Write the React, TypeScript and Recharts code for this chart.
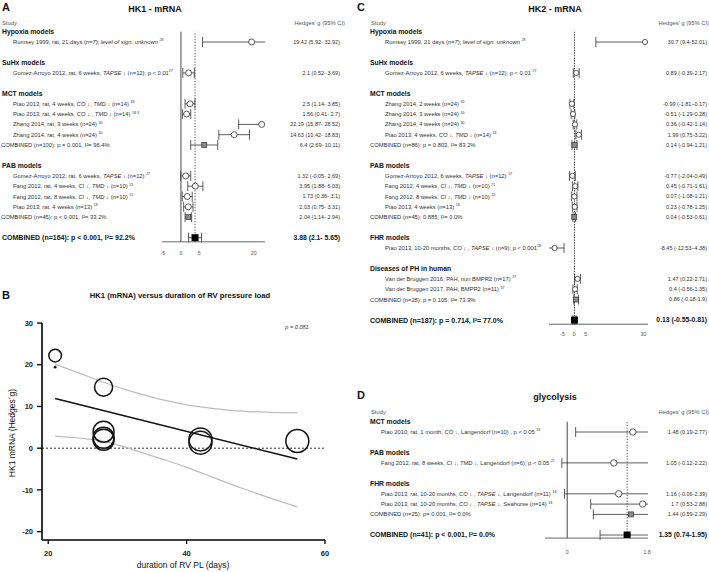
import React from 'react';
import {
  ScatterChart, Scatter, XAxis, YAxis, ErrorBar, ReferenceLine,
  ComposedChart, Line,
} from 'recharts';

const FONT = '"Liberation Sans", Arial, Helvetica, sans-serif';

interface Row { i: number; kind: 'h' | 's' | 'c' | 't'; label: string; g?: number; lo?: number; hi?: number; ci?: string; }

// ---------- Panel A: HK1 - mRNA ----------
const hk1Rows: Row[] = [
  { i: 0, kind: 'h', label: 'Hypoxia models' },
  { i: 1, kind: 's', label: 'Rumsey 1999, rat, 21 days (*n=7*); *level of sign. unknown* ^28^', g: 19.42, lo: 5.92, hi: 32.92, ci: '19.42 (5.92- 32.92)' },
  { i: 3, kind: 'h', label: 'SuHx models' },
  { i: 4, kind: 's', label: 'Gomez-Arroyo 2012, rat, 6 weeks, *TAPSE* ↓ (n=12); p < 0.01^27^', g: 2.1, lo: 0.52, hi: 3.69, ci: '2.1 (0.52- 3.69)' },
  { i: 6, kind: 'h', label: 'MCT models' },
  { i: 7, kind: 's', label: 'Piao 2013, rat, 4 weeks, *CO* ↓, *TMD* ↓ (n=14) ^18^', g: 2.5, lo: 1.14, hi: 3.85, ci: '2.5 (1.14- 3.85)' },
  { i: 8, kind: 's', label: 'Piao 2013, rat, 4 weeks, *CO* ↓ , *TMD* ↓ (n=14) ^18 X^', g: 1.56, lo: 0.41, hi: 2.7, ci: '1.56 (0.41- 2.7)' },
  { i: 9, kind: 's', label: 'Zhang 2014, rat, 3 weeks (n=24) ^30^', g: 22.19, lo: 15.87, hi: 28.52, ci: '22.19 (15.87- 28.52)' },
  { i: 10, kind: 's', label: 'Zhang 2014, rat, 4 weeks (n=24) ^30^', g: 14.63, lo: 10.42, hi: 18.83, ci: '14.63 (10.42- 18.83)' },
  { i: 11, kind: 'c', label: 'COMBINED (n=100): p = 0.001, I²= 96.4%', g: 6.4, lo: 2.69, hi: 10.11, ci: '6.4 (2.69- 10.11)' },
  { i: 13, kind: 'h', label: 'PAB models' },
  { i: 14, kind: 's', label: 'Gomez-Arroyo 2012, rat, 6 weeks, *TAPSE* ↓ (n=12) ^27^', g: 1.32, lo: -0.05, hi: 2.69, ci: '1.32 (-0.05- 2.69)' },
  { i: 15, kind: 's', label: 'Fang 2012, rat, 4 weeks, *CI* ↓, *TMD* ↓ (n=10) ^21^', g: 3.95, lo: 1.88, hi: 6.03, ci: '3.95 (1.88- 6.03)' },
  { i: 16, kind: 's', label: 'Fang 2012, rat, 8 weeks, *CI* ↓, *TMD* ↓ (n=10) ^21^', g: 1.73, lo: 0.36, hi: 3.1, ci: '1.73 (0.36- 3.1)' },
  { i: 17, kind: 's', label: 'Piao 2013, rat, 4 weeks (n=13) ^18^', g: 2.03, lo: 0.75, hi: 3.31, ci: '2.03 (0.75- 3.31)' },
  { i: 18, kind: 'c', label: 'COMBINED (n=45): p < 0.001, I²= 33.2%', g: 2.04, lo: 1.14, hi: 2.94, ci: '2.04 (1.14- 2.94)' },
  { i: 20, kind: 't', label: 'COMBINED (n=164): p < 0.001, I²= 92.2%', g: 3.88, lo: 2.1, hi: 5.65, ci: '3.88 (2.1- 5.65)' },
];
const hk1Ticks = [-5, 0, 5, 20];

// ---------- Panel C: HK2 - mRNA ----------
const hk2Rows: Row[] = [
  { i: 0, kind: 'h', label: 'Hypoxia models' },
  { i: 1, kind: 's', label: 'Rumsey 1999, 21 days (*n=7*); *level of sign. unknown* ^28^', g: 30.7, lo: 9.4, hi: 52.01, ci: '30.7 (9.4-52.01)' },
  { i: 3, kind: 'h', label: 'SuHx models' },
  { i: 4, kind: 's', label: 'Gomez-Arroyo 2012, 6 weeks, *TAPSE* ↓ (n=12); p < 0.01 ^27^', g: 0.89, lo: -0.39, hi: 2.17, ci: '0.89 (-0.39-2.17)' },
  { i: 6, kind: 'h', label: 'MCT models' },
  { i: 7, kind: 's', label: 'Zhang 2014, 2 weeks (n=24) ^30^', g: -0.99, lo: -1.81, hi: -0.17, ci: '-0.99 (-1.81–0.17)' },
  { i: 8, kind: 's', label: 'Zhang 2014, 3 weeks (n=24) ^30^', g: -0.51, lo: -1.29, hi: 0.28, ci: '-0.51 (-1.29-0.28)' },
  { i: 9, kind: 's', label: 'Zhang 2014, 4 weeks (n=24) ^30^', g: 0.36, lo: -0.42, hi: 1.14, ci: '0.36 (-0.42-1.14)' },
  { i: 10, kind: 's', label: 'Piao 2013, 4 weeks, *CO* ↓,  *TMD* ↓ (n=14) ^18^', g: 1.99, lo: 0.75, hi: 3.22, ci: '1.99 (0.75-3.22)' },
  { i: 11, kind: 'c', label: 'COMBINED (n=86): p = 0.803, I²= 83.2%', g: 0.14, lo: -0.94, hi: 1.21, ci: '0.14 (-0.94-1.21)' },
  { i: 13, kind: 'h', label: 'PAB models' },
  { i: 14, kind: 's', label: 'Gomez-Arroyo 2012, 6 weeks, *TAPSE* ↓ (n=12) ^27^', g: -0.77, lo: -2.04, hi: 0.49, ci: '-0.77 (-2.04-0.49)' },
  { i: 15, kind: 's', label: 'Fang 2012, 4 weeks, *CI* ↓,  *TMD* ↓ (n=10) ^21^', g: 0.45, lo: -0.71, hi: 1.61, ci: '0.45 (-0.71-1.61)' },
  { i: 16, kind: 's', label: 'Fang 2012, 8 weeks, *CI* ↓,  *TMD* ↓ (n=10) ^21^', g: 0.07, lo: -1.08, hi: 1.21, ci: '0.07 (-1.08-1.21)' },
  { i: 17, kind: 's', label: 'Piao 2013, 4 weeks (n=13) ^18^', g: 0.23, lo: -0.78, hi: 1.25, ci: '0.23 (-0.78-1.25)' },
  { i: 18, kind: 'c', label: 'COMBINED (n=45):  0.885, I²= 0.0%', g: 0.04, lo: -0.53, hi: 0.61, ci: '0.04 (-0.53-0.61)' },
  { i: 20, kind: 'h', label: 'FHR models' },
  { i: 21, kind: 's', label: 'Piao 2013, 10-20 months, *CO* ↓ , *TAPSE* ↓ (n=9); p < 0.001^18^', g: -8.45, lo: -12.53, hi: -4.38, ci: '-8.45 (-12.53–4.38)' },
  { i: 23, kind: 'h', label: 'Diseases of PH in human' },
  { i: 24, kind: 's', label: 'Van der Bruggen 2016, PAH, non BMPR2 (n=17) ^37^', g: 1.47, lo: 0.22, hi: 2.71, ci: '1.47 (0.22-2.71)' },
  { i: 25, kind: 's', label: 'Van der Bruggen 2017, PAH, BMPR2 (n=11) ^37^', g: 0.4, lo: -0.56, hi: 1.35, ci: '0.4 (-0.56-1.35)' },
  { i: 26, kind: 'c', label: 'COMBINED (n=28): p = 0.105, I²= 73.3%', g: 0.86, lo: -0.18, hi: 1.9, ci: '0.86 (-0.18-1.9)' },
  { i: 28, kind: 't', label: 'COMBINED (n=187): p = 0.714, I²= 77.0%', g: 0.13, lo: -0.55, hi: 0.81, ci: '0.13 (-0.55-0.81)' },
];
const hk2Ticks = [-5, 0, 5, 30];

// ---------- Panel D: glycolysis ----------
const glyRows: Row[] = [
  { i: 0, kind: 'h', label: 'MCT models' },
  { i: 1, kind: 's', label: 'Piao 2010, rat, 1 month, *CO* ↓, Langendorf  (n=10) , p < 0.05 ^19^', g: 1.48, lo: 0.19, hi: 2.77, ci: '1.48 (0.19-2.77)' },
  { i: 3, kind: 'h', label: 'PAB models' },
  { i: 4, kind: 's', label: 'Fang 2012, rat, 8 weeks, *CI* ↓, *TMD* ↓, Langendorf  (n=6); p < 0.05 ^21^', g: 1.05, lo: -0.12, hi: 2.22, ci: '1.05 (-0.12-2.22)' },
  { i: 6, kind: 'h', label: 'FHR models' },
  { i: 7, kind: 's', label: 'Piao 2013, rat, 10-20 months, *CO* ↓ , *TAPSE* ↓, Langendorf  (n=11) ^18^', g: 1.16, lo: -0.06, hi: 2.39, ci: '1.16 (-0.06-2.39)' },
  { i: 8, kind: 's', label: 'Piao 2013, rat, 10-20 months, *CO* ↓ , *TAPSE* ↓, Seahorse  (n=14) ^18^', g: 1.7, lo: 0.53, hi: 2.88, ci: '1.7 (0.53-2.88)' },
  { i: 9, kind: 'c', label: 'COMBINED (n=25):  p= 0.001, I²= 0.0%', g: 1.44, lo: 0.59, hi: 2.29, ci: '1.44 (0.59-2.29)' },
  { i: 11, kind: 't', label: 'COMBINED (n=41): p < 0.001, I²= 0.0%', g: 1.35, lo: 0.74, hi: 1.95, ci: '1.35 (0.74-1.95)' },
];
const glyTicks = [0, 1.8];

// ---------- Panel B: HK1 vs duration ----------
const bubbleDays = [21, 21, 28, 28, 28, 28, 42, 42, 56];
const bubbleG = [22.19, 19.42, 14.63, 3.95, 2.5, 2.03, 2.1, 1.32, 1.73];
const bubbleWeight = [40, 2, 81, 110, 110, 110, 132, 132, 132];
const fitDays = [21, 56];
const fitG = [11.9, -2.6];
const upperDays = [21, 24, 28, 32, 36, 40, 44, 48, 52, 56];
const upperG = [20.1, 18.3, 15.8, 13.6, 11.8, 10.4, 9.5, 8.9, 8.6, 8.5];
const lowerDays = [21, 24, 28, 31, 34, 37, 40, 44, 48, 52, 56];
const lowerG = [2.9, 2.5, 1.7, 0.3, -1.3, -2.9, -4.6, -7.1, -9.6, -11.9, -14.1];
const bTicksX = [20, 40, 60];
const bTicksY = [-20, -10, 0, 10, 20, 30];

function rich(text: string, size: number) {
  const parts = text.split(/(\*[^*]*\*|\^[^^]*\^)/).filter((s) => s.length > 0);
  let shift = 0;
  return parts.map((p, k) => {
    if (p[0] === '^') {
      const target = -size * 0.45;
      const d = target - shift;
      shift = target;
      return <tspan key={k} dy={d} fontSize={size * 0.62}>{p.slice(1, -1)}</tspan>;
    }
    const d = -shift;
    shift = 0;
    const it = p[0] === '*';
    return <tspan key={k} dy={d} fontStyle={it ? 'italic' : undefined}>{it ? p.slice(1, -1) : p}</tspan>;
  });
}

interface Cfg {
  id: string;
  left: number; top: number; width: number; height: number;
  plotLeft: number; plotRight: number; y0: number; rowH: number; idxMax: number;
  domain: [number, number]; ticks: number[]; summary: number; zeroLine: boolean;
  headerX: number; indentX: number; combX: number; rightX: number;
  tickMargin: number; xAxisH: number; circleR: number; combS: number; totalS: number;
}

function Forest({ rows, c }: { rows: Row[]; c: Cfg }) {
  const points = rows.filter((r) => r.kind !== 'h').map((r) => ({
    x: r.g as number, y: r.i, err: [(r.g as number) - (r.lo as number), (r.hi as number) - (r.g as number)], kind: r.kind,
  }));
  const plotBottom = c.y0 + c.idxMax * c.rowH;
  const margin = { top: c.y0, left: 0, right: c.width - c.plotRight, bottom: c.height - plotBottom - c.xAxisH };
  const tick = (props: any) => {
    const { y, payload } = props;
    const r = rows.find((rr) => rr.i === payload.value);
    if (!r) return <g />;
    const isH = r.kind === 'h';
    const isT = r.kind === 't';
    const fs = isH ? 6.8 : isT ? 7.0 : 5.8;
    const lx = r.kind === 's' ? c.indentX : r.kind === 'c' ? c.combX : c.headerX;
    const ciFs = isT ? 6.8 : 5.5;
    return (
      <g>
        <text x={lx} y={y + fs * 0.35} fontSize={fs} fontFamily={FONT} fontWeight={isH || isT ? 700 : 400} fill={isH || isT ? '#111' : '#333'}>
          {rich(r.label, fs)}
        </text>
        {r.ci ? (
          <text x={c.rightX} y={y + ciFs * 0.35} fontSize={ciFs} fontFamily={FONT} textAnchor="end" fontWeight={isT ? 700 : 400} fill={isT ? '#111' : '#333'}>
            {r.ci}
          </text>
        ) : null}
      </g>
    );
  };
  const shape = (p: any) => {
    const { cx, cy, payload } = p;
    if (cx == null || cy == null) return <g />;
    if (payload.kind === 's') return <circle cx={cx} cy={cy} r={c.circleR} fill="#fff" stroke="#333" strokeWidth={0.8} />;
    if (payload.kind === 'c') return <rect x={cx - c.combS / 2} y={cy - c.combS / 2} width={c.combS} height={c.combS} fill="#8a8a8a" stroke="#333" strokeWidth={0.7} />;
    return <rect x={cx - c.totalS / 2} y={cy - c.totalS / 2} width={c.totalS} height={c.totalS} fill="#000" />;
  };
  return (
    <div className={`forest-${c.id}`} style={{ position: 'absolute', left: c.left, top: c.top }}>
      <ScatterChart width={c.width} height={c.height} margin={margin}>
        <XAxis type="number" dataKey="x" domain={c.domain} allowDataOverflow ticks={c.ticks} interval={0}
          tickLine={false} axisLine={{ stroke: '#555', strokeWidth: 0.9 }} height={c.xAxisH} tickMargin={c.tickMargin}
          tick={{ fontSize: 5.2, fill: '#555', fontFamily: FONT }} />
        <YAxis type="number" dataKey="y" domain={[0, c.idxMax]} reversed allowDataOverflow ticks={rows.map((r) => r.i)}
          interval={0} tick={tick} axisLine={false} tickLine={false} width={c.plotLeft} />
        {c.zeroLine ? <ReferenceLine x={0} stroke="#333" strokeWidth={0.9} /> : null}
        <ReferenceLine x={c.summary} stroke="#333" strokeWidth={0.9} strokeDasharray={c.zeroLine ? '1.2 1.6' : '1.6 1'} />
        <Scatter data={points} isAnimationActive={false} shape={shape}>
          <ErrorBar dataKey="err" direction="x" width={5} stroke="#333" strokeWidth={0.8} />
        </Scatter>
      </ScatterChart>
    </div>
  );
}

const cfgA: Cfg = {
  id: 'a', left: 0, top: 0, width: 345, height: 270, plotLeft: 162, plotRight: 265, y0: 31.7, rowH: 10.3, idxMax: 20.4,
  domain: [-5.2, 23.1], ticks: hk1Ticks, summary: 3.88, zeroLine: true, headerX: 2, indentX: 13, combX: 1, rightX: 340,
  tickMargin: 3, xAxisH: 20, circleR: 3, combS: 5, totalS: 7,
};
const cfgC: Cfg = {
  id: 'c', left: 355, top: 0, width: 354, height: 350, plotLeft: 194, plotRight: 293, y0: 31.7, rowH: 10.3, idxMax: 28.4,
  domain: [-10.9, 32], ticks: hk2Ticks, summary: 0.13, zeroLine: false, headerX: 15, indentX: 30, combX: 15, rightX: 352,
  tickMargin: 2, xAxisH: 20, circleR: 2.6, combS: 5, totalS: 7,
};
const cfgD: Cfg = {
  id: 'd', left: 355, top: 380, width: 354, height: 190, plotLeft: 190, plotRight: 293, y0: 41.7, rowH: 10.3, idxMax: 11.3,
  domain: [-0.5, 1.82], ticks: glyTicks, summary: 1.35, zeroLine: true, headerX: 15, indentX: 26, combX: 15, rightX: 352,
  tickMargin: 6, xAxisH: 24, circleR: 3.2, combS: 5, totalS: 7,
};
const forestCfgs = [cfgA, cfgC, cfgD];

function PanelB() {
  const bubbles = bubbleDays.map((d, k) => ({ x: d, y: bubbleG[k], w: bubbleWeight[k] }));
  const fit = fitDays.map((d, k) => ({ x: d, y: fitG[k] }));
  const upper = upperDays.map((d, k) => ({ x: d, y: upperG[k] }));
  const lower = lowerDays.map((d, k) => ({ x: d, y: lowerG[k] }));
  const bubbleShape = (p: any) => {
    const { cx, cy, payload } = p;
    if (cx == null || cy == null) return <g />;
    const r = Math.sqrt(payload.w);
    const small = payload.w < 5;
    return <circle cx={cx} cy={cy} r={r} fill={small ? '#111' : 'none'} stroke="#111" strokeWidth={small ? 0 : 1.5} />;
  };
  return (
    <div style={{ position: 'absolute', left: 0, top: 300 }}>
      <ComposedChart width={345} height={272} margin={{ top: 23, right: 20, left: 12, bottom: 0 }}>
        <XAxis type="number" dataKey="x" domain={[19.1, 60]} allowDataOverflow ticks={bTicksX} interval={0} height={32}
          tickSize={4} tickMargin={7} axisLine={{ stroke: '#000', strokeWidth: 1.6 }} tickLine={{ stroke: '#000', strokeWidth: 1.3 }}
          tick={{ fontSize: 7.5, fontWeight: 700, fill: '#222', fontFamily: FONT }} />
        <YAxis type="number" dataKey="y" domain={[-22, 30]} allowDataOverflow ticks={bTicksY} interval={0} width={30}
          tickSize={5} tickMargin={4} axisLine={{ stroke: '#000', strokeWidth: 1.6 }} tickLine={{ stroke: '#000', strokeWidth: 1.3 }}
          tick={{ fontSize: 7.5, fontWeight: 700, fill: '#222', fontFamily: FONT }} />
        <ReferenceLine y={0} stroke="#333" strokeWidth={1} strokeDasharray="2 2" />
        <Line data={upper} dataKey="y" type="monotone" stroke="#bdbdbd" strokeWidth={1.2} dot={false} isAnimationActive={false} />
        <Line data={lower} dataKey="y" type="monotone" stroke="#bdbdbd" strokeWidth={1.2} dot={false} isAnimationActive={false} />
        <Line data={fit} dataKey="y" type="linear" stroke="#111" strokeWidth={1.6} dot={false} isAnimationActive={false} />
        <Scatter data={bubbles} dataKey="y" shape={bubbleShape} isAnimationActive={false} />
      </ComposedChart>
    </div>
  );
}

function Labels() {
  const t = (x: number, y: number, s: number, txt: string, o: any = {}) => (
    <text x={x} y={y + s * 0.35} fontSize={s} fontFamily={FONT} fill={o.fill || '#111'} fontWeight={o.bold ? 700 : 400}
      fontStyle={o.italic ? 'italic' : 'normal'} textAnchor={o.anchor || 'start'}>{txt}</text>
  );
  return (
    <svg width={709} height={572} style={{ position: 'absolute', left: 0, top: 0, pointerEvents: 'none' }}>
      <defs>
        {forestCfgs.map((c) => (
          <clipPath key={c.id} id={`clip-${c.id}`} clipPathUnits="userSpaceOnUse">
            <rect x={c.plotLeft} y={0} width={c.plotRight - c.plotLeft} height={c.height} />
          </clipPath>
        ))}
      </defs>
      {t(2, 7, 11, 'A', { bold: true })}
      {t(155, 9, 9, 'HK1 - mRNA', { bold: true, anchor: 'middle' })}
      {t(2, 23, 5.8, 'Study', { fill: '#555' })}
      {t(345, 23, 5.8, "Hedges' g (95% CI)", { fill: '#555', anchor: 'end' })}

      {t(357, 7, 11, 'C', { bold: true })}
      {t(555, 9, 9, 'HK2 - mRNA', { bold: true, anchor: 'middle' })}
      {t(371, 23, 5.8, 'Study', { fill: '#555' })}
      {t(709, 23, 5.8, "Hedges' g (95% CI)", { fill: '#555', anchor: 'end' })}

      {t(357, 395, 11, 'D', { bold: true })}
      {t(555, 397, 9, 'glycolysis', { bold: true, anchor: 'middle' })}
      {t(371, 412, 5.8, 'Study', { fill: '#555' })}
      {t(709, 412, 5.8, "Hedges' g (95% CI)", { fill: '#555', anchor: 'end' })}

      {t(2, 295, 11, 'B', { bold: true })}
      {t(180, 295, 7.7, 'HK1 (mRNA) versus duration of RV pressure load', { bold: true, anchor: 'middle' })}
      {t(297, 327, 5.6, 'p = 0.081', { italic: true, anchor: 'middle', fill: '#333' })}
      {t(183, 565, 8.5, 'duration of RV  PL (days)', { anchor: 'middle' })}
      <text x={12} y={433} fontSize={8.5} fontFamily={FONT} fill="#111" textAnchor="middle" dominantBaseline="central"
        transform="rotate(-90 12 433)">HK1 mRNA (Hedges´g)</text>
    </svg>
  );
}

const clipCss = forestCfgs
  .map((c) => `.forest-${c.id} .recharts-errorBar, .forest-${c.id} .recharts-errorBars { clip-path: url(#clip-${c.id}); }`)
  .join('\n');

export default function App() {
  return (
    <div style={{ position: 'absolute', left: 0, top: 0, width: 709, height: 572, background: '#fff', fontFamily: FONT, overflow: 'hidden' }}>
      <style>{clipCss}</style>
      <Forest rows={hk1Rows} c={cfgA} />
      <Forest rows={hk2Rows} c={cfgC} />
      <Forest rows={glyRows} c={cfgD} />
      <PanelB />
      <Labels />
    </div>
  );
}
